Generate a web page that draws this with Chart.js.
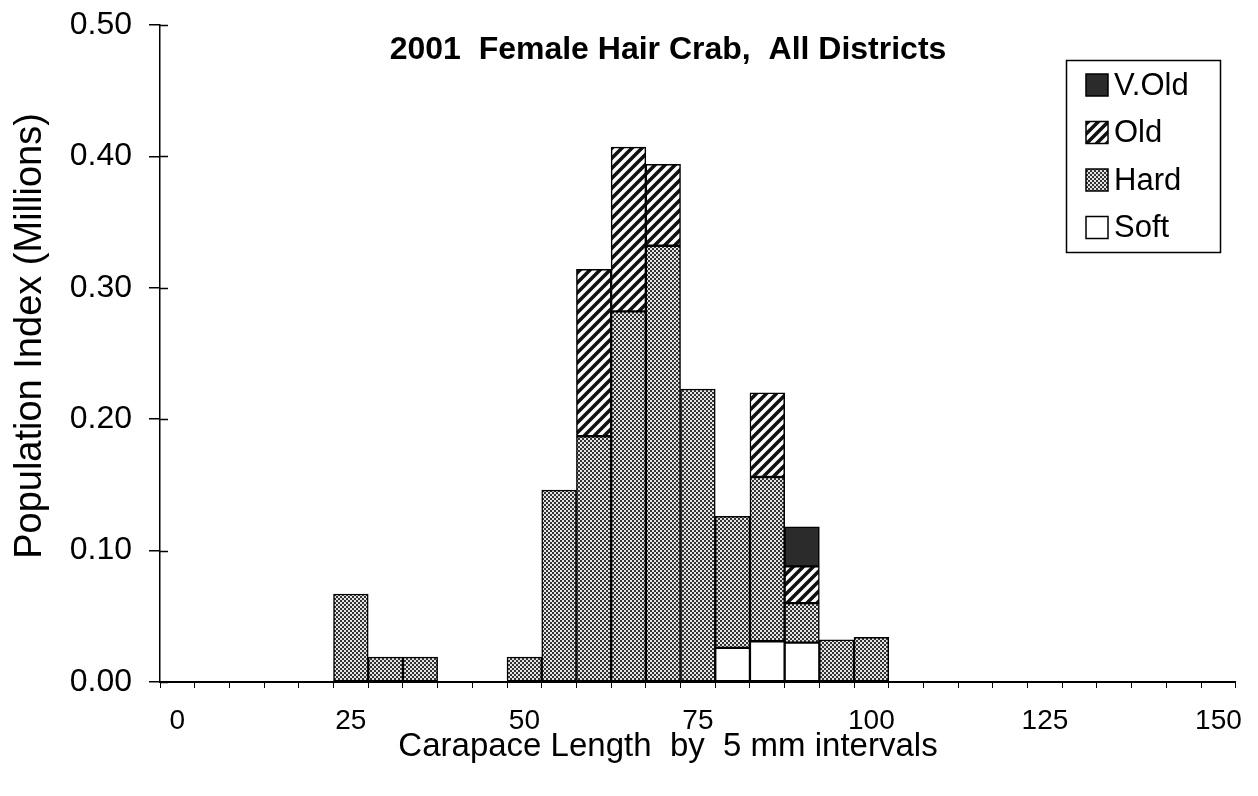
<!DOCTYPE html>
<html>
<head>
<meta charset="utf-8">
<script src="https://cdn.jsdelivr.net/npm/chart.js@4"></script>
<style>
  html, body { margin: 0; padding: 0; background: #fff; }
  #wrap { width: 1258px; height: 796px; position: relative; }
</style>
</head>
<body>
<div id="wrap"><canvas id="chart" width="1258" height="796"></canvas></div>
<script>
// Carapace length classes (5 mm), 0..150
const lengths = [0, 5, 10, 15, 20, 25, 30, 35, 40, 45, 50, 55, 60, 65, 70, 75,
                 80, 85, 90, 95, 100, 105, 110, 115, 120, 125, 130, 135, 140, 145, 150];

// Population index (millions) by shell condition
const soft = [null, null, null, null, null, null, null, null, null, null, null, null, null, null, null, null,
              0.026, 0.031, 0.030, null, null, null, null, null, null, null, null, null, null, null, null];
const hard = [null, null, null, null, null, 0.067, 0.019, 0.019, null, null, 0.019, 0.146, 0.187, 0.282, 0.332, 0.223,
              0.100, 0.125, 0.030, 0.032, 0.034, null, null, null, null, null, null, null, null, null, null];
const old  = [null, null, null, null, null, null, null, null, null, null, null, null, 0.127, 0.125, 0.062, null,
              null, 0.064, 0.028, null, null, null, null, null, null, null, null, null, null, null, null];
const vold = [null, null, null, null, null, null, null, null, null, null, null, null, null, null, null, null,
              null, null, 0.030, null, null, null, null, null, null, null, null, null, null, null, null];

const yTicks = [0, 0.1, 0.2, 0.3, 0.4, 0.5];
const labelEvery = [0, 25, 50, 75, 100, 125, 150];

const FONT = "'Liberation Sans', Arial, Helvetica, sans-serif";

// --- fill patterns like the old printed chart ---
function makeTile(size, draw) {
    const c = document.createElement('canvas');
    c.width = size; c.height = size;
    const g = c.getContext('2d');
    draw(g, size);
    return document.createElement('canvas').getContext('2d').createPattern(c, 'repeat');
}

const hardFill = makeTile(4, (g) => {
    g.fillStyle = '#e4e4e4';
    g.fillRect(0, 0, 4, 4);
    g.fillStyle = '#333';
    g.fillRect(0, 0, 2, 2);
    g.fillRect(2, 2, 2, 2);
});

const oldFill = makeTile(10, (g, s) => {
    g.fillStyle = '#fff';
    g.fillRect(0, 0, s, s);
    g.strokeStyle = '#111';
    g.lineWidth = 3.6;
    g.beginPath();
    g.moveTo(-2, s + 2); g.lineTo(s + 2, -2);
    g.moveTo(-5, 5); g.lineTo(5, -5);
    g.moveTo(5, s + 5); g.lineTo(s + 5, 5);
    g.stroke();
});

const voldFill = '#2b2b2b';
const softFill = '#ffffff';

const series = [
    { label: 'Soft', data: soft, fill: softFill },
    { label: 'Hard', data: hard, fill: hardFill },
    { label: 'Old', data: old, fill: oldFill },
    { label: 'V.Old', data: vold, fill: voldFill },
];

// chart title, axis titles, boxed legend at top right, inner half of y ticks
const decorations = {
    id: 'decorations',
    afterDraw(chart) {
        const { ctx, chartArea, scales } = chart;
        ctx.save();

        // inner tick stubs on the value axis
        ctx.strokeStyle = '#000';
        ctx.lineWidth = 1.5;
        yTicks.forEach(v => {
            const y = Math.round(scales.y.getPixelForValue(v)) + 0.5;
            ctx.beginPath();
            ctx.moveTo(chartArea.left, y);
            ctx.lineTo(chartArea.left + 8, y);
            ctx.stroke();
        });

        ctx.fillStyle = '#000';
        ctx.textAlign = 'center';
        ctx.textBaseline = 'middle';

        // title
        ctx.font = 'bold 32px ' + FONT;
        ctx.fillText('2001  Female Hair Crab,  All Districts', 668, 50);

        // axis titles
        ctx.font = '33px ' + FONT;
        ctx.fillText('Carapace Length  by  5 mm intervals', 668, 747);

        ctx.save();
        ctx.translate(31, 336);
        ctx.rotate(-Math.PI / 2);
        ctx.font = '38px ' + FONT;
        ctx.fillText('Population Index (Millions)', 0, 0);
        ctx.restore();

        // legend box
        const bx = 1066, by = 60, bw = 154, bh = 192;
        ctx.fillStyle = '#fff';
        ctx.fillRect(bx, by, bw, bh);
        ctx.lineWidth = 1.5;
        ctx.strokeStyle = '#000';
        ctx.strokeRect(bx + 0.5, by + 0.5, bw, bh);

        const order = [3, 2, 1, 0];
        ctx.font = '31px ' + FONT;
        ctx.textAlign = 'left';
        order.forEach((idx, i) => {
            const s = series[idx];
            const cy = by + 25 + i * 47.5;
            ctx.fillStyle = s.fill;
            ctx.fillRect(bx + 20, cy - 11, 22, 22);
            ctx.lineWidth = 1.5;
            ctx.strokeStyle = '#000';
            ctx.strokeRect(bx + 20, cy - 11, 22, 22);
            ctx.fillStyle = '#000';
            ctx.fillText(s.label, bx + 48, cy + 1);
        });
        ctx.restore();
    }
};

new Chart(document.getElementById('chart'), {
    type: 'bar',
    data: {
        labels: lengths,
        datasets: series.map(s => ({
            label: s.label,
            data: s.data,
            backgroundColor: s.fill,
            borderColor: '#000',
            borderWidth: 1.5,
            borderSkipped: false,
            categoryPercentage: 1.0,
            barPercentage: 1.0,
        }))
    },
    options: {
        responsive: false,
        animation: false,
        layout: { padding: { left: 0, right: 13, top: 25, bottom: 0 } },
        plugins: {
            legend: { display: false },
            title: { display: false },
            tooltip: { enabled: false }
        },
        scales: {
            x: {
                stacked: true,
                offset: true,
                grid: {
                    offset: true,
                    drawOnChartArea: false,
                    color: '#000',
                    tickLength: 6,
                    lineWidth: 1
                },
                border: { color: '#000', width: 2 },
                ticks: {
                    autoSkip: false,
                    maxRotation: 0,
                    color: '#000',
                    padding: 16,
                    font: { family: FONT, size: 28 },
                    callback(value) {
                        const v = lengths[value];
                        return labelEvery.includes(v) ? String(v) : '';
                    }
                },
                afterFit(scale) { scale.height = 114; }
            },
            y: {
                stacked: true,
                min: 0,
                max: 0.5,
                grid: {
                    drawOnChartArea: false,
                    color: '#000',
                    tickLength: 11,
                    lineWidth: 1.5
                },
                border: { color: '#000', width: 1.5 },
                afterBuildTicks(scale) {
                    scale.ticks = yTicks.map(v => ({ value: v }));
                },
                ticks: {
                    color: '#000',
                    padding: 17,
                    font: { family: FONT, size: 32 },
                    callback: v => v.toFixed(2)
                },
                afterFit(scale) {
                    scale.width = 160;
                    scale.paddingTop = 0;
                    scale.paddingBottom = 0;
                }
            }
        }
    },
    plugins: [decorations]
});
</script>
</body>
</html>
